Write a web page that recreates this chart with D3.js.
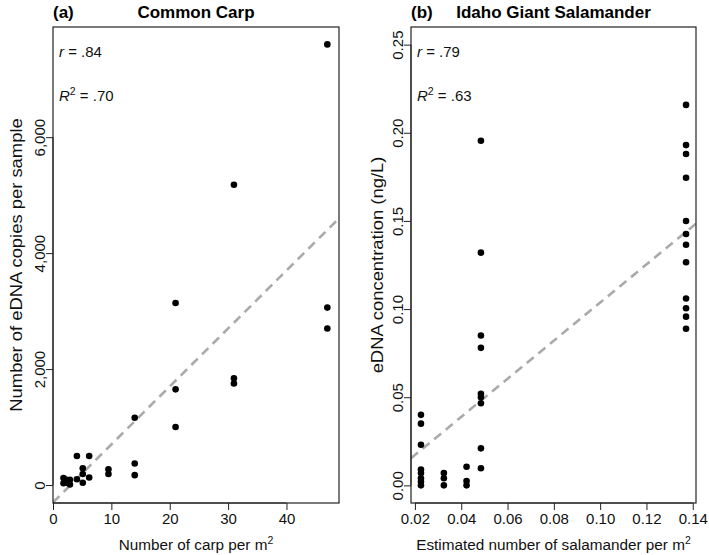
<!DOCTYPE html>
<html><head><meta charset="utf-8">
<script src="https://cdn.jsdelivr.net/npm/d3@7"></script>
<style>body{margin:0;background:#fff}svg{display:block}text{font-family:"Liberation Sans",Arial,Helvetica,sans-serif}</style>
</head><body><svg id="c" width="709" height="555"></svg>
<script>
// ---- Data ----
const carpX = [47,47,47, 31,31,31, 21,21,21, 14,14,14, 9.5,9.5, 6.2,6.2, 5.1,5.1,5.1, 4.1,4.1, 1.8,1.8, 2.3,2.3, 2.9,2.9,2.6];
const carpY = [7600,3060,2700, 5180,1840,1750, 3140,1650,1000, 1160,370,170, 270,190, 500,130, 290,190,40, 500,100, 120,30, 90,40, 90,10,50];
const salX = [0.0226,0.0226,0.0226,0.0226,0.0226,0.0226,0.0226,0.0226,
              0.0325,0.0325,0.0325,
              0.0423,0.0423,0.0423,
              0.0485,0.0485,0.0485,0.0485,0.0485,0.0485,0.0485,0.0485,0.0485,
              0.1371,0.1371,0.1371,0.1371,0.1371,0.1371,0.1371,0.1371,0.1371,0.1371,0.1371,0.1371];
const salY = [0.040,0.035,0.023,0.009,0.007,0.004,0.002,0.000,
              0.007,0.004,0.000,
              0.0106,0.0025,0.000,
              0.1955,0.132,0.085,0.078,0.052,0.050,0.0466,0.021,0.0097,
              0.2158,0.193,0.188,0.1745,0.150,0.1426,0.1365,0.1266,0.106,0.1005,0.0957,0.0888];
const carpXTicks = [0,10,20,30,40];
const carpYTicks = [0,2000,4000,6000];
const salXTicks = [0.02,0.04,0.06,0.08,0.10,0.12,0.14];
const salYTicks = [0,0.05,0.10,0.15,0.20,0.25];
const carpFit = {intercept:-300, slope:100};
const salFit = {intercept:-0.0044, slope:1.081};

const svg = d3.select("#c");

function panel(o){
  const g = svg.append("g");
  const x = d3.scaleLinear().domain(o.xd).range([o.x0,o.x1]);
  const y = d3.scaleLinear().domain(o.yd).range([o.y1,o.y0]);
  const cid = "clip"+o.id;
  svg.append("clipPath").attr("id",cid).append("rect")
    .attr("x",o.x0).attr("y",o.y0).attr("width",o.x1-o.x0).attr("height",o.y1-o.y0);
  g.append("line").attr("clip-path","url(#"+cid+")")
    .attr("x1",x(o.xd[0])).attr("y1",y(o.fit.intercept+o.fit.slope*o.xd[0]))
    .attr("x2",x(o.xd[1])).attr("y2",y(o.fit.intercept+o.fit.slope*o.xd[1]))
    .attr("stroke","#aaaaaa").attr("stroke-width",2.6).attr("stroke-dasharray","9,6");
  g.selectAll("circle.p").data(o.xs.map((v,i)=>[v,o.ys[i]])).join("circle")
    .attr("cx",d=>x(d[0])).attr("cy",d=>y(d[1])).attr("r",3.3).attr("fill","#000");
  g.append("rect").attr("x",o.x0).attr("y",o.y0).attr("width",o.x1-o.x0).attr("height",o.y1-o.y0)
    .attr("fill","none").attr("stroke","#222").attr("stroke-width",1.2);
  const xa = g.append("g").attr("transform",`translate(0,${o.y1})`)
    .call(d3.axisBottom(x).tickValues(o.xt).tickFormat(o.xf).tickSize(7).tickPadding(4));
  xa.select(".domain").attr("d",`M${x(o.xt[0])},0H${x(o.xt[o.xt.length-1])}`).attr("stroke","#222");
  xa.selectAll(".tick line").attr("stroke","#222");
  xa.selectAll(".tick text").attr("font-size",15).attr("fill","#111").attr("y",null).attr("dy",null)
    .attr("transform","translate(0,21)");
  const ya = g.append("g").attr("transform",`translate(${o.x0},0)`)
    .call(d3.axisLeft(y).tickValues(o.yt).tickFormat(o.yf).tickSize(7));
  ya.select(".domain").attr("d",`M0,${y(o.yt[0])}V${y(o.yt[o.yt.length-1])}`).attr("stroke","#222");
  ya.selectAll(".tick line").attr("stroke","#222");
  ya.selectAll(".tick text").attr("font-size",15).attr("fill","#111")
    .attr("x",null).attr("dy",null).attr("text-anchor","middle")
    .attr("transform",`translate(${o.ylx - o.x0},0) rotate(-90)`);
  svg.append("text").attr("x",o.x0).attr("y",18).attr("font-size",17).attr("font-weight","bold").text(o.tag);
  svg.append("text").attr("x",(o.x0+o.x1)/2).attr("y",18).attr("font-size",17).attr("font-weight","bold")
    .attr("text-anchor","middle").text(o.title);
  const xl = svg.append("text").attr("x",(o.x0+o.x1)/2).attr("y",550).attr("font-size",15.3)
    .attr("text-anchor","middle").attr("fill","#111");
  xl.append("tspan").text(o.xlab);
  xl.append("tspan").attr("font-size",10.5).attr("dy",-6).text("2");
  svg.append("text").attr("transform",`translate(${o.ytx},${(o.y0+o.y1)/2}) rotate(-90) scale(1.15,1)`)
    .attr("font-size",16).attr("text-anchor","middle").attr("fill","#111").text(o.ylab);
  const r = svg.append("text").attr("x",o.x0+6).attr("y",57).attr("font-size",15).attr("fill","#111");
  r.append("tspan").attr("font-style","italic").text("r");
  r.append("tspan").text(" = "+o.r);
  const r2 = svg.append("text").attr("x",o.x0+6).attr("y",101).attr("font-size",15).attr("fill","#111");
  r2.append("tspan").attr("font-style","italic").text("R");
  r2.append("tspan").attr("font-size",10.5).attr("dy",-6).text("2");
  r2.append("tspan").attr("dy",6).text(" = "+o.r2);
}

panel({id:"a", x0:53, x1:339, y0:27, y1:503, xd:[0,49], yd:[-310,7900],
  xs:carpX, ys:carpY, xt:carpXTicks, yt:carpYTicks, xf:d3.format("d"), yf:d3.format(","),
  fit:carpFit, ylx:45, ytx:22, tag:"(a)", title:"Common Carp",
  xlab:"Number of carp per m", ylab:"Number of eDNA copies per sample", r:".84", r2:".70"});

panel({id:"b", x0:411, x1:696, y0:27, y1:503, xd:[0.0183,0.1414], yd:[-0.01,0.26],
  xs:salX, ys:salY, xt:salXTicks, yt:salYTicks, xf:d3.format(".2f"), yf:d3.format(".2f"),
  fit:salFit, ylx:403, ytx:383, tag:"(b)", title:"Idaho Giant Salamander",
  xlab:"Estimated number of salamander per m", ylab:"eDNA concentration (ng/L)", r:".79", r2:".63"});
</script></body></html>
